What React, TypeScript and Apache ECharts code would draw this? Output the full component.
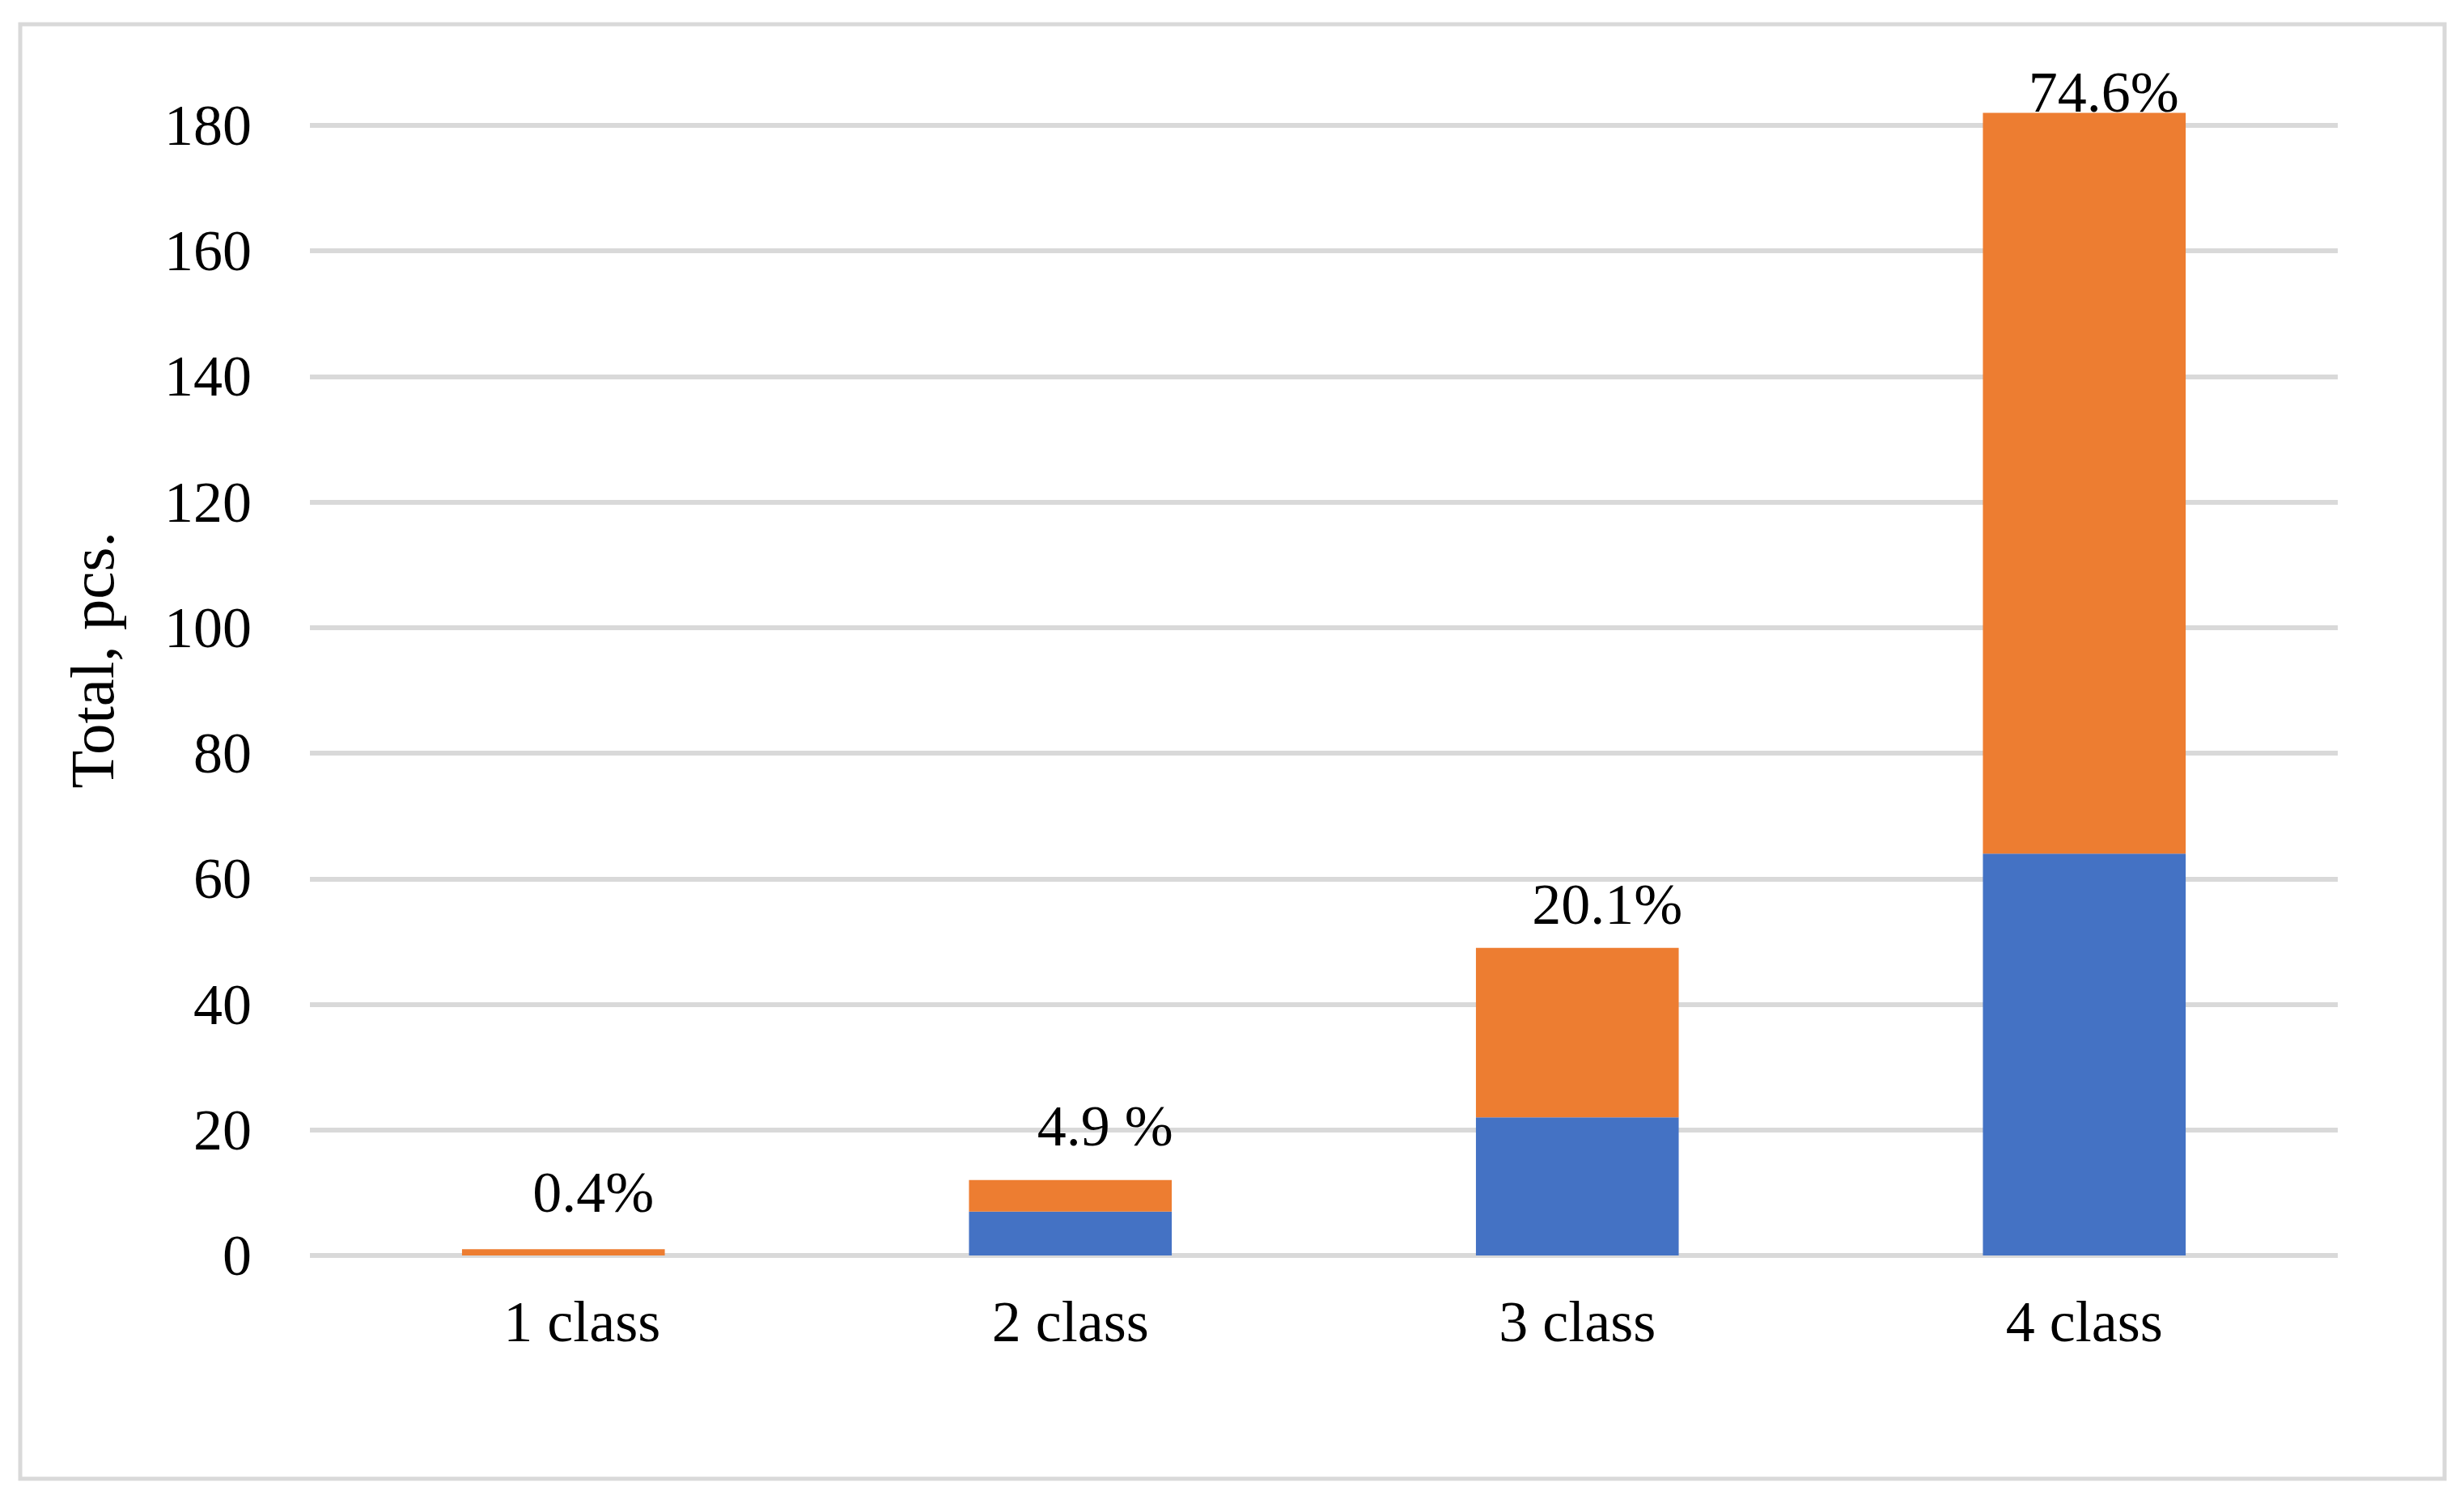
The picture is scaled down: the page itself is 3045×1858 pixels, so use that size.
import React, { useEffect, useRef } from "react";
import * as echarts from "echarts";

const categories = ["1 class", "2 class", "3 class", "4 class"];
const blueValues = [0, 7, 22, 64];
const orangeValues = [1, 5, 27, 118];
const shareLabels = ["0.4%", "4.9 %", "20.1%", "74.6%"];
const yTicks = { min: 0, max: 180, interval: 20 };
const labelOffsets = [
  [37, -34],
  [43, -31],
  [37, -18],
  [24, 11],
];
const categoryLabelShift = [46, 0, 0, 0];

const FONT = "'Liberation Serif', 'DejaVu Serif', serif";

export default function App() {
  const ref = useRef<HTMLDivElement>(null);
  useEffect(() => {
    if (!ref.current) return;
    const chart = echarts.init(ref.current, null, { renderer: "svg" });
    chart.setOption({
      animation: false,
      backgroundColor: "#ffffff",
      textStyle: { fontFamily: FONT },
      grid: { left: 383, right: 156, top: 155, bottom: 306, containLabel: false },
      xAxis: {
        type: "category",
        data: categories,
        axisLine: { show: false },
        axisTick: { show: false },
        axisLabel: {
          color: "#000",
          fontSize: 72,
          fontFamily: FONT,
          margin: 46,
          formatter: (v: string, i: number) => `{c${i}|${v}}`,
          rich: Object.fromEntries(
            categoryLabelShift.map((s, i) => [
              `c${i}`,
              { fontSize: 72, fontFamily: FONT, color: "#000", padding: [0, 0, 0, s] },
            ])
          ),
        },
      },
      yAxis: {
        type: "value",
        min: yTicks.min,
        max: yTicks.max,
        interval: yTicks.interval,
        axisLine: { show: false },
        axisTick: { show: false },
        axisLabel: { color: "#000", fontSize: 72, fontFamily: FONT, margin: 72 },
        splitLine: { lineStyle: { color: "#d9d9d9", width: 6 } },
      },
      series: [
        {
          type: "bar",
          stack: "total",
          data: blueValues,
          barWidth: "40%",
          clip: false,
          itemStyle: { color: "#4472C4" },
        },
        {
          type: "bar",
          stack: "total",
          data: orangeValues.map((v, i) => ({
            value: v,
            label: {
              show: true,
              position: "top",
              distance: 0,
              offset: labelOffsets[i],
              formatter: shareLabels[i],
              color: "#000",
              fontSize: 72,
              fontFamily: FONT,
            },
          })),
          barWidth: "40%",
          clip: false,
          itemStyle: { color: "#ED7D31" },
        },
      ],
      graphic: [
        {
          type: "rect",
          shape: { x: 25, y: 30, width: 2996, height: 1798 },
          style: { fill: "none", stroke: "#d9d9d9", lineWidth: 5 },
          silent: true,
        },
        {
          type: "text",
          x: 114,
          y: 816,
          rotation: Math.PI / 2,
          style: {
            text: "Total, pcs.",
            fontSize: 77,
            fontFamily: FONT,
            fill: "#000",
            textAlign: "center",
            textVerticalAlign: "middle",
          },
        },
      ],
    });
    return () => chart.dispose();
  }, []);
  return (
    <div
      ref={ref}
      style={{ position: "fixed", left: 0, top: 0, width: 3045, height: 1858, background: "#fff" }}
    />
  );
}
